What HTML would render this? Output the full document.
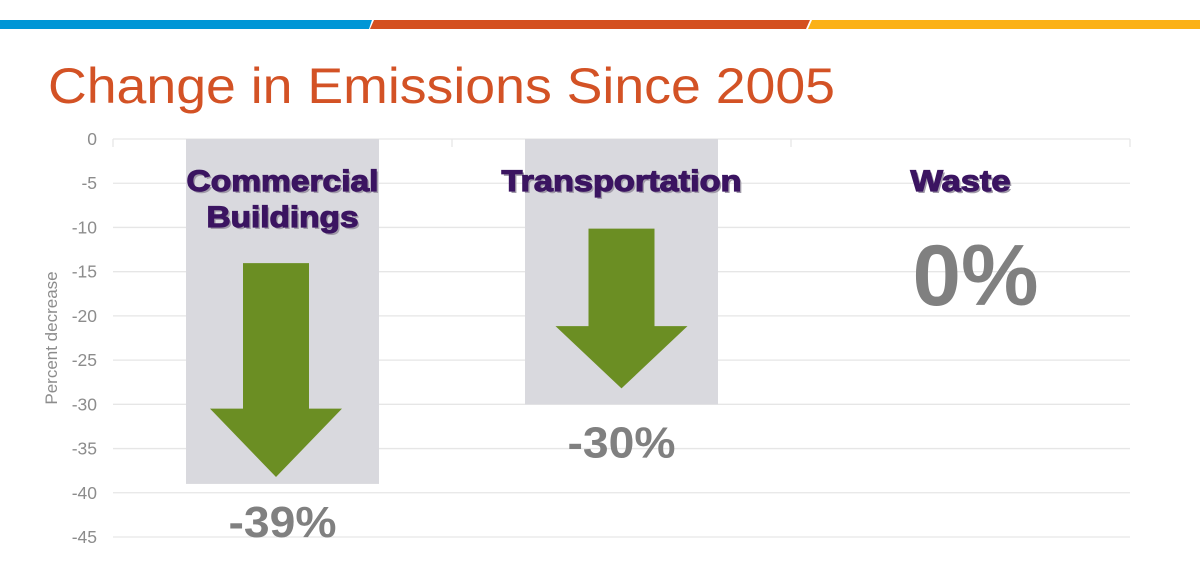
<!DOCTYPE html>
<html><head><meta charset="utf-8">
<style>
html,body{margin:0;padding:0;background:#fff;}
svg{display:block;}
text{font-family:"Liberation Sans",Arial,sans-serif;}
</style></head>
<body>
<svg id="chart" width="1200" height="585" viewBox="0 0 1200 585">
  <g>
    <polygon points="0,20 372,20 369,29 0,29" fill="#0096d6"/>
    <polygon points="374,20 810,20 806,29 370,29" fill="#d4501f"/>
    <polygon points="812,20 1200,20 1200,29 808,29" fill="#fbb116"/>
  </g>
  <text x="48" y="103" font-size="50" fill="#d35225" textLength="787" lengthAdjust="spacingAndGlyphs">Change in Emissions Since 2005</text>
  <text transform="translate(57,338) rotate(-90)" text-anchor="middle" font-size="17" fill="#8c8c8c">Percent decrease</text>
  <g id="grid"></g>
  <g id="bars"></g>
</svg>
<script>
const categories = ["Commercial Buildings", "Transportation", "Waste"];
const labelLines = [["Commercial", "Buildings"], ["Transportation"], ["Waste"]];
const values = [-39, -30, 0];
const valueLabels = ["-39%", "-30%", "0%"];
const ticks = [0, -5, -10, -15, -20, -25, -30, -35, -40, -45];

const NS = "http://www.w3.org/2000/svg";
const x0 = 113, x1 = 1130, yTop = 139, yBot = 537;
const bandW = (x1 - x0) / categories.length;
function yScale(v){ return yTop + (0 - v) / 45 * (yBot - yTop); }
function xCenter(i){ return x0 + bandW * (i + 0.5); }
function mk(tag, attrs, parent){
  const e = document.createElementNS(NS, tag);
  for (const k in attrs) e.setAttribute(k, attrs[k]);
  parent.appendChild(e);
  return e;
}
const grid = document.getElementById("grid");
const bars = document.getElementById("bars");

ticks.forEach(t => {
  const y = yScale(t);
  const l = mk("line", {x1: x0, x2: x1, y1: y, y2: y, stroke: "#e6e6e6", "stroke-width": 1.3}, grid);
  
  
  const tx = mk("text", {x: 97, y: y + 6, "text-anchor": "end", "font-size": 17.5, fill: "#8c8c8c"}, grid);
  tx.textContent = String(t);
  
  
});
for (let i = 0; i <= categories.length; i++) {
  const x = x0 + bandW * i;
  const l = mk("line", {x1: x, x2: x, y1: yTop, y2: yTop + 8, stroke: "#e6e6e6", "stroke-width": 1.3}, grid);
  
  
}

const barW = 193;
categories.forEach((c, i) => {
  const cx = xCenter(i);
  const v = values[i];
  const yv = yScale(v);
  if (v < 0) {
    const r = mk("rect", {x: cx - barW / 2, y: yTop, width: barW, height: yv - yTop, fill: "#d9d9de"}, bars);
    
    
    const len = yv - yTop;
    const ax = cx + (i === 0 ? -6.5 : 0);
    const aTop = yTop + len * (i === 0 ? 0.36 : 0.338);
    const tip = yv - len * (i === 0 ? 0.02 : 0.06);
    const headH = (tip - aTop) * (i === 0 ? 0.32 : 0.39);
    const sw = 33, hw = 66;
    const pts = [[ax - sw, aTop], [ax + sw, aTop], [ax + sw, tip - headH], [ax + hw, tip - headH], [ax, tip], [ax - hw, tip - headH], [ax - sw, tip - headH]];
    const a = mk("polygon", {points: pts.map(p => p.join(",")).join(" "), fill: "#6b8e23"}, bars);
    
    
    const vt = mk("text", {x: cx, y: yv + 53, "text-anchor": "middle", "font-size": 44, "font-weight": "bold", fill: "#808080", textLength: 108, lengthAdjust: "spacingAndGlyphs"}, bars);
    vt.textContent = valueLabels[i];
    
    
  } else {
    const vt = mk("text", {x: cx + 15, y: 305, "text-anchor": "middle", "font-size": 86, "font-weight": "bold", fill: "#808080", textLength: 126, lengthAdjust: "spacingAndGlyphs"}, bars);
    vt.textContent = valueLabels[i];
    
    
  }
  const widths = [[192, 152], [240], [100]];
  labelLines[i].forEach((ln, j) => {
    const y = 191 + j * 36;
    const sh = mk("text", {x: cx + 2, y: y + 2, "text-anchor": "middle", "font-size": 30, "font-weight": "bold", fill: "#a09aa8", textLength: widths[i][j], lengthAdjust: "spacingAndGlyphs"}, bars);
    sh.textContent = ln;
    
    
    const t = mk("text", {x: cx, y: y, "text-anchor": "middle", "font-size": 30, "font-weight": "bold", fill: "#3b1461", stroke: "#3b1461", "stroke-width": 1.2, textLength: widths[i][j], lengthAdjust: "spacingAndGlyphs"}, bars);
    t.textContent = ln;
    
    
  });
});
</script>
</body></html>
